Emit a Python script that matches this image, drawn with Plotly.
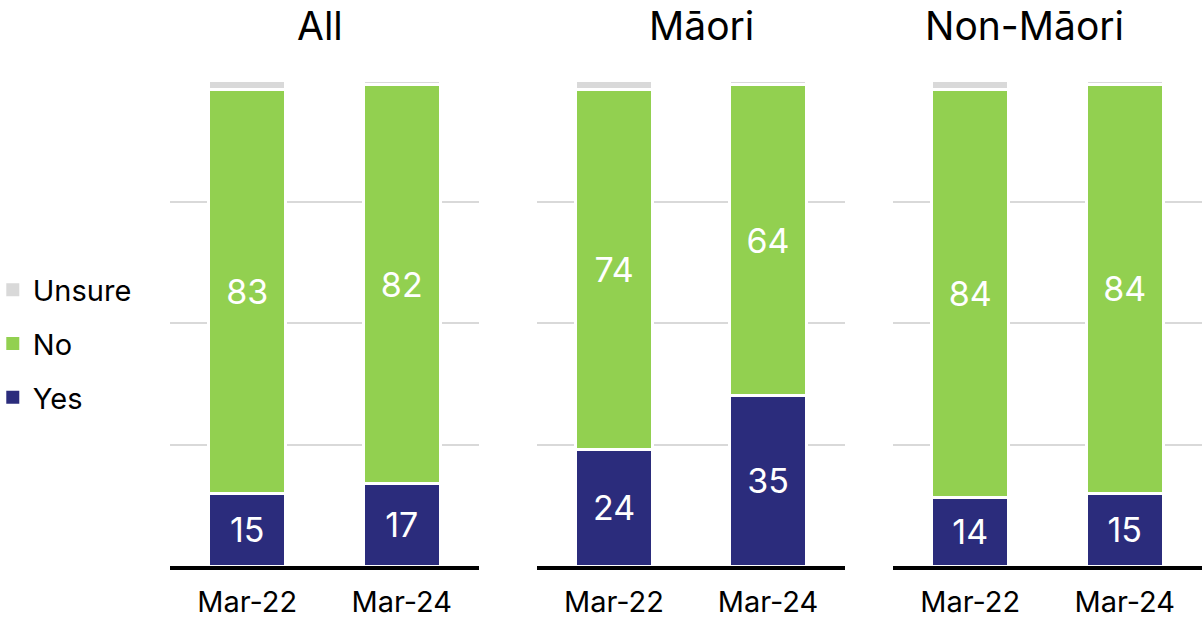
import plotly.graph_objects as go

# ---- data ----
groups = ["All", "Māori", "Non-Māori"]
periods = ["Mar-22", "Mar-24"]
yes_vals = [[15, 17], [24, 35], [14, 15]]
no_vals = [[83, 82], [74, 64], [84, 84]]
unsure_vals = [[2, 1], [2, 1], [2, 1]]

series_names = ["Yes", "No", "Unsure"]
series_colors = ["#2B2C7C", "#92D050", "#D9D9D9"]
series_data = [yes_vals, no_vals, unsure_vals]
legend_rank = {"Unsure": 1, "No": 2, "Yes": 3}

FONT = "Inter, Liberation Sans, Arial, sans-serif"
W, H = 1202, 620
MT, MB = 80, 54
plot_h = H - MT - MB

domains = [[170 / W, 479 / W], [537 / W, 845 / W], [893 / W, 1.0]]
title_x_px = [320, 701, 1024]

fig = go.Figure()

for gi, g in enumerate(groups):
    xa = "x" if gi == 0 else f"x{gi + 1}"
    ya = "y" if gi == 0 else f"y{gi + 1}"
    for si, name in enumerate(series_names):
        vals = series_data[si][gi]
        show_text = name != "Unsure"
        fig.add_trace(go.Bar(
            x=periods, y=vals, name=name,
            xaxis=xa, yaxis=ya,
            marker=dict(color=series_colors[si], line=dict(color="white", width=3)),
            width=0.5,
            text=[str(v) for v in vals] if show_text else None,
            textposition="inside" if show_text else "none",
            insidetextanchor="middle",
            textfont=dict(color="white", size=34, family=FONT),
            showlegend=False,
            hoverinfo="skip",
        ))

# legend entries (square swatches)
for si, name in enumerate(series_names):
    fig.add_trace(go.Scatter(
        x=[None], y=[None], name=name, mode="markers",
        marker=dict(symbol="square", size=13, color=series_colors[si]),
        legendrank=legend_rank[name], legendgroup=name,
        showlegend=True, hoverinfo="skip",
    ))

layout = dict(
    width=W, height=H,
    barmode="stack",
    plot_bgcolor="white", paper_bgcolor="white",
    margin=dict(l=0, r=0, t=MT, b=MB, autoexpand=False),
    font=dict(family=FONT, color="black"),
    legend=dict(
        x=-0.006, xanchor="left",
        y=(566 - 344) / plot_h, yanchor="middle",
        traceorder="grouped",
        tracegroupgap=13,
        font=dict(size=29, family=FONT, color="black"),
        bgcolor="rgba(0,0,0,0)",
        itemwidth=30,
    ),
    annotations=[],
)

for gi, g in enumerate(groups):
    sfx = "" if gi == 0 else str(gi + 1)
    layout[f"xaxis{sfx}"] = dict(
        domain=domains[gi],
        anchor=f"y{sfx}",
        type="category",
        categoryorder="array", categoryarray=periods,
        range=[-0.5, 1.5],
        showline=True, linecolor="black", linewidth=4,
        showgrid=False, ticks="",
        ticklabelstandoff=7,
        tickfont=dict(size=29, family=FONT, color="black"),
        fixedrange=True,
    )
    layout[f"yaxis{sfx}"] = dict(
        anchor=f"x{sfx}",
        range=[0, 100],
        tickvals=[0, 25, 50, 75, 100],
        showticklabels=False,
        showgrid=True, gridcolor="#D9D9D9", gridwidth=2,
        zeroline=False, showline=False, ticks="",
        fixedrange=True,
    )
    layout["annotations"].append(dict(
        text=g, x=title_x_px[gi] / W, xref="paper", xanchor="center",
        y=1 + (MT - 25) / plot_h, yref="paper", yanchor="middle",
        showarrow=False, font=dict(size=39, family=FONT, color="black"),
    ))

fig.update_layout(**layout)
fig.write_html("out.html", config={"displayModeBar": False},
               post_script="document.body.style.margin='0';")
